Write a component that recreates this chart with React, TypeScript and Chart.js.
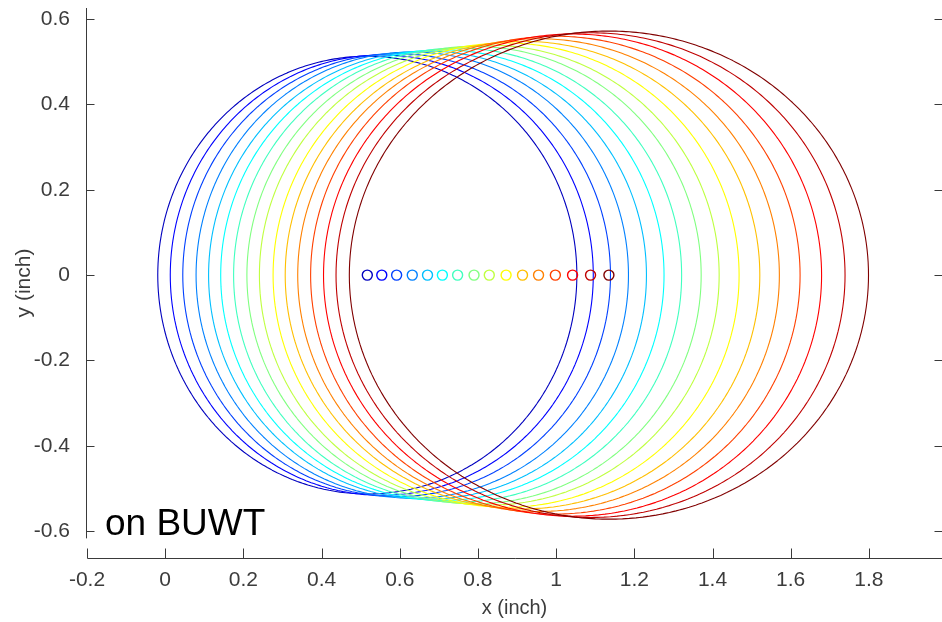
import React, { useEffect, useRef } from 'react';
import { Chart, registerables } from 'chart.js';

Chart.register(...registerables);

// Ring centres (x, inch) — all on y = 0
const CENTER_X = [0.517, 0.554, 0.592, 0.632, 0.671, 0.709, 0.748, 0.790, 0.829, 0.872, 0.914, 0.955, 0.998, 1.042, 1.088, 1.135];
const CENTER_Y = [0, 0, 0, 0, 0, 0, 0, 0, 0, 0, 0, 0, 0, 0, 0, 0];
// Ring half-widths (x) and half-heights (y), inch
const RADIUS_X = [0.536, 0.541, 0.547, 0.553, 0.560, 0.567, 0.573, 0.581, 0.588, 0.596, 0.607, 0.616, 0.626, 0.637, 0.651, 0.664];
const RADIUS_Y = [0.513, 0.516, 0.519, 0.523, 0.525, 0.528, 0.532, 0.536, 0.539, 0.544, 0.548, 0.554, 0.560, 0.565, 0.568, 0.572];
// jet(16) colours
const COLORS = ['#0000BF', '#0000FF', '#0040FF', '#0080FF', '#00BFFF', '#00FFFF', '#40FFBF', '#80FF80', '#BFFF40', '#FFFF00', '#FFBF00', '#FF8000', '#FF4000', '#FF0000', '#BF0000', '#800000'];

const X_TICKS = [-0.2, 0, 0.2, 0.4, 0.6, 0.8, 1, 1.2, 1.4, 1.6, 1.8];
const Y_TICKS = [-0.6, -0.4, -0.2, 0, 0.2, 0.4, 0.6];
const X_MIN = -0.2;
const X_MAX = 1.987;
const Y_MIN = -0.663;
const Y_MAX = 0.626;
const Y_AXIS_END = -0.617;
const X_LABEL = 'x (inch)';
const Y_LABEL = 'y (inch)';
const NOTE = 'on BUWT';
const SEGMENTS = 240;

const FONT = '"Liberation Sans", Arial, sans-serif';
const TEXT_COLOR = '#3c3c3c';
const AXIS_COLOR = '#3a3a3a';

function ringPoints(cx: number, cy: number, rx: number, ry: number) {
  const pts: { x: number; y: number }[] = [];
  for (let k = 0; k <= SEGMENTS; k++) {
    const t = Math.PI / 2 + (k / SEGMENTS) * Math.PI * 2;
    pts.push({ x: cx + rx * Math.cos(t), y: cy + ry * Math.sin(t) });
  }
  return pts;
}

const axesPlugin = {
  id: 'matlabAxes',
  afterDatasetsDraw(chart: any) {
    const { ctx, chartArea, scales } = chart;
    const xs = scales.x;
    const ys = scales.y;
    ctx.save();
    ctx.strokeStyle = AXIS_COLOR;
    ctx.lineWidth = 1;
    const left = Math.round(chartArea.left) - 0.5;
    const bottom = Math.round(chartArea.bottom) + 0.5;
    const right = Math.round(chartArea.right) - 0.5;
    // y axis line
    ctx.beginPath();
    ctx.moveTo(left, ys.getPixelForValue(Y_MAX));
    ctx.lineTo(left, ys.getPixelForValue(Y_AXIS_END));
    ctx.stroke();
    // x axis line
    ctx.beginPath();
    ctx.moveTo(left + 1, bottom);
    ctx.lineTo(chartArea.right + 2, bottom);
    ctx.stroke();
    // y ticks (inward) left & right
    Y_TICKS.forEach((v) => {
      const py = Math.round(ys.getPixelForValue(v)) + 0.5;
      ctx.beginPath();
      ctx.moveTo(left, py);
      ctx.lineTo(left + 8, py);
      ctx.stroke();
      ctx.beginPath();
      ctx.moveTo(right + 1, py);
      ctx.lineTo(right - 7, py);
      ctx.stroke();
    });
    // x ticks (inward)
    X_TICKS.forEach((v) => {
      const px = Math.round(xs.getPixelForValue(v)) + 0.5;
      ctx.beginPath();
      ctx.moveTo(px, bottom);
      ctx.lineTo(px, bottom - 10);
      ctx.stroke();
    });
    // annotation
    ctx.fillStyle = '#000';
    ctx.font = `37px ${FONT}`;
    ctx.textAlign = 'left';
    ctx.textBaseline = 'alphabetic';
    ctx.fillText(NOTE, chartArea.left + 18, chartArea.bottom - 23);
    ctx.restore();
  },
};

export default function App() {
  const ref = useRef<HTMLCanvasElement | null>(null);

  useEffect(() => {
    if (!ref.current) return;
    const ringSets = CENTER_X.map((cx, i) => ({
      type: 'scatter' as const,
      label: `ring ${i + 1}`,
      data: ringPoints(cx, CENTER_Y[i], RADIUS_X[i], RADIUS_Y[i]),
      showLine: true,
      borderColor: COLORS[i],
      borderWidth: 1.1,
      borderJoinStyle: 'round',
      pointRadius: 0,
      pointHoverRadius: 0,
      fill: false,
      tension: 0.01,
      order: CENTER_X.length - i + 1,
    }));
    const markerSet = {
      type: 'scatter' as const,
      label: 'centres',
      data: CENTER_X.map((cx, i) => ({ x: cx, y: CENTER_Y[i] })),
      showLine: false,
      pointStyle: 'circle',
      pointRadius: 5,
      pointBorderWidth: 1.4,
      pointBorderColor: COLORS,
      pointBackgroundColor: 'rgba(0,0,0,0)',
      order: 0,
    };

    const chart = new Chart(ref.current, {
      type: 'scatter',
      data: { datasets: [...ringSets, markerSet] as any },
      plugins: [axesPlugin],
      options: {
        animation: false,
        responsive: false,
        maintainAspectRatio: false,
        devicePixelRatio: 1,
        layout: { autoPadding: false, padding: { top: 8, right: 0, left: 0, bottom: 0 } },
        plugins: { legend: { display: false }, tooltip: { enabled: false } },
        scales: {
          x: {
            type: 'linear',
            min: X_MIN,
            max: X_MAX,
            grid: { display: false },
            border: { display: false },
            afterBuildTicks: (s: any) => {
              s.ticks = X_TICKS.map((value) => ({ value }));
            },
            afterFit: (s: any) => {
              s.height = 64;
              s.paddingLeft = 0;
              s.paddingRight = 0;
            },
            ticks: {
              autoSkip: false,
              maxRotation: 0,
              padding: 2,
              color: TEXT_COLOR,
              font: { family: FONT, size: 21 },
              callback: (v: any) => String(Math.round(Number(v) * 10) / 10),
            },
            title: {
              display: true,
              text: X_LABEL,
              color: TEXT_COLOR,
              font: { family: FONT, size: 20 },
              padding: { top: 0, bottom: 2 },
            },
          },
          y: {
            type: 'linear',
            min: Y_MIN,
            max: Y_MAX,
            grid: { display: false },
            border: { display: false },
            afterBuildTicks: (s: any) => {
              s.ticks = Y_TICKS.map((value) => ({ value }));
            },
            afterFit: (s: any) => {
              s.width = 87;
              s.paddingTop = 0;
              s.paddingBottom = 0;
            },
            ticks: {
              autoSkip: false,
              padding: 9,
              color: TEXT_COLOR,
              font: { family: FONT, size: 21 },
              callback: (v: any) => String(Math.round(Number(v) * 10) / 10),
            },
            title: {
              display: true,
              text: Y_LABEL,
              color: TEXT_COLOR,
              font: { family: FONT, size: 21 },
              padding: { top: 12, bottom: 0 },
            },
          },
        },
      },
    });
    return () => chart.destroy();
  }, []);

  return (
    <div style={{ position: 'fixed', left: 0, top: 0, width: 942, height: 622, background: '#fff' }}>
      <canvas ref={ref} width={942} height={622} style={{ display: 'block', width: 942, height: 622 }} />
    </div>
  );
}
